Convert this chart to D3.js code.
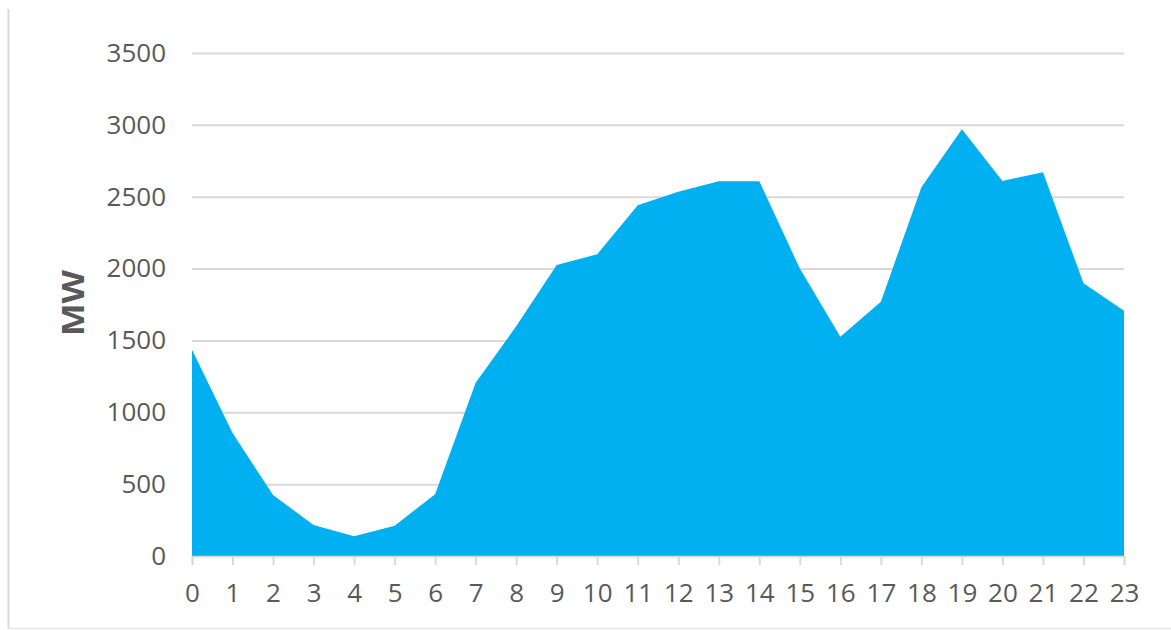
<!DOCTYPE html>
<html>
<head>
<meta charset="utf-8">
<script src="https://cdn.jsdelivr.net/npm/d3@7"></script>
<style>
  html, body { margin: 0; padding: 0; background: #ffffff; }
  svg { display: block; }
  .tick text { font-family: "Open Sans", sans-serif; fill: #595959; }
</style>
</head>
<body>
<svg id="chart" width="1171" height="630"></svg>
<script>
// Hourly load profile (MW) for hours 0–23
const hours = [0, 1, 2, 3, 4, 5, 6, 7, 8, 9, 10, 11, 12, 13, 14, 15, 16, 17, 18, 19, 20, 21, 22, 23];
const loadMW = [1435, 855, 425, 215, 137, 211, 430, 1205, 1598, 2025, 2100, 2440, 2535, 2608, 2608, 2000, 1525, 1770, 2565, 2970, 2610, 2670, 1898, 1706];
const yTicks = [0, 500, 1000, 1500, 2000, 2500, 3000, 3500];
const yLabel = "MW";

const W = 1171, H = 630;
const margin = { left: 192, right: 47, top: 53, bottom: 74 };

const svg = d3.select("#chart");

// frame edges
svg.append("line").attr("x1", 8.5).attr("x2", 8.5).attr("y1", 9).attr("y2", 629)
  .attr("stroke", "#d9d9d9").attr("stroke-width", 2);
svg.append("line").attr("x1", 8).attr("x2", W).attr("y1", 628.5).attr("y2", 628.5)
  .attr("stroke", "#e6e6e6").attr("stroke-width", 1.5);

const x = d3.scaleLinear().domain([0, 23]).range([margin.left, W - margin.right]);
const y = d3.scaleLinear().domain([0, 3500]).range([H - margin.bottom, margin.top]);

// horizontal gridlines with value labels
const yAxis = svg.append("g")
  .attr("transform", `translate(${margin.left},0)`)
  .call(d3.axisLeft(y).tickValues(yTicks).tickSize(-(W - margin.right - margin.left)).tickPadding(26).tickFormat(d3.format("d")));
yAxis.select(".domain").remove();
yAxis.selectAll(".tick line").attr("stroke", "#d9d9d9").attr("stroke-width", 2);
yAxis.selectAll(".tick text").attr("font-size", 26);

// filled area
const area = d3.area()
  .x((d, i) => x(hours[i]))
  .y0(y(0))
  .y1(d => y(d));
svg.append("path").datum(loadMW)
  .attr("d", area)
  .attr("fill", "#00b0f0");

// hour axis
const xAxis = svg.append("g")
  .attr("transform", `translate(0,${y(0)})`)
  .call(d3.axisBottom(x).tickValues(hours).tickSize(9).tickPadding(19).tickFormat(d3.format("d")));
xAxis.select(".domain").attr("stroke", "#d9d9d9").attr("stroke-width", 1.5);
xAxis.selectAll(".tick line").attr("stroke", "#d9d9d9").attr("stroke-width", 2);
xAxis.selectAll(".tick text").attr("font-size", 26);

// axis title
svg.append("text")
  .attr("transform", "translate(72,303) rotate(-90)")
  .attr("text-anchor", "middle")
  .attr("dominant-baseline", "central")
  .attr("font-family", "'Open Sans', sans-serif")
  .attr("font-weight", "bold")
  .attr("font-size", 31)
  .attr("textLength", 66)
  .attr("lengthAdjust", "spacingAndGlyphs")
  .attr("fill", "#595959")
  .text(yLabel);
</script>
</body>
</html>
